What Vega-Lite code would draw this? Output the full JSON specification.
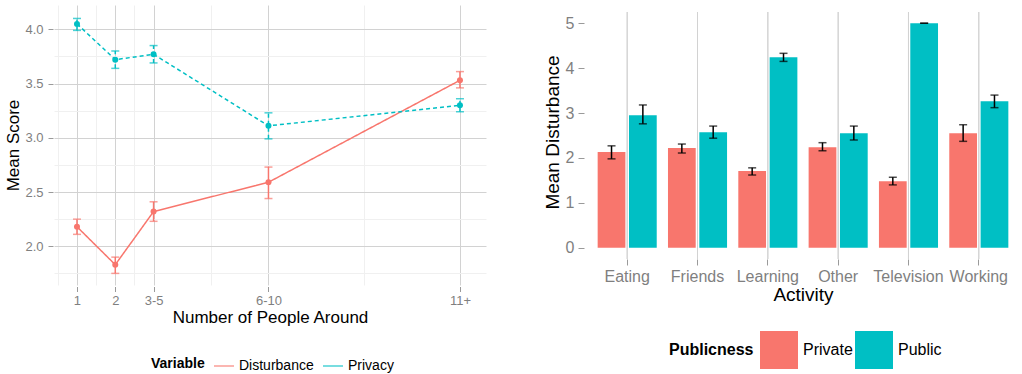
{
  "$schema": "https://vega.github.io/schema/vega-lite/v6.json",
  "autosize": "none",
  "padding": {"left": 54, "top": 5, "right": 968, "bottom": 369},
  "background": "white",
  "spacing": 99,
  "bounds": "flush",
  "config": {
    "font": "Liberation Sans",
    "view": {"stroke": null},
    "axis": {
      "domain": false,
      "labelColor": "#7f7f7f",
      "titleColor": "#000000",
      "titleFontWeight": "normal",
      "labelFont": "Liberation Sans",
      "titleFont": "Liberation Sans",
      "labelOverlap": false,
      "gridWidth": 1
    },
    "legend": {"labelFont": "Liberation Sans", "titleFont": "Liberation Sans", "labelColor": "#000000", "titleColor": "#000000"}
  },
  "resolve": {"scale": {"color": "independent", "x": "independent", "y": "independent"}, "legend": {"color": "independent"}},
  "hconcat": [
    {
      "width": 432,
      "height": 280,
      "data": {"values": [
        {"n": 1, "Variable": "Disturbance", "mean": 2.18, "lo": 2.11, "hi": 2.25},
        {"n": 2, "Variable": "Disturbance", "mean": 1.83, "lo": 1.75, "hi": 1.90},
        {"n": 3, "Variable": "Disturbance", "mean": 2.32, "lo": 2.23, "hi": 2.41},
        {"n": 6, "Variable": "Disturbance", "mean": 2.59, "lo": 2.44, "hi": 2.73},
        {"n": 11, "Variable": "Disturbance", "mean": 3.53, "lo": 3.46, "hi": 3.61},
        {"n": 1, "Variable": "Privacy", "mean": 4.05, "lo": 3.99, "hi": 4.10},
        {"n": 2, "Variable": "Privacy", "mean": 3.72, "lo": 3.64, "hi": 3.80},
        {"n": 3, "Variable": "Privacy", "mean": 3.77, "lo": 3.69, "hi": 3.85},
        {"n": 6, "Variable": "Privacy", "mean": 3.11, "lo": 2.99, "hi": 3.23},
        {"n": 11, "Variable": "Privacy", "mean": 3.30, "lo": 3.24, "hi": 3.36}
      ]},
      "encoding": {
        "x": {
          "field": "n", "type": "quantitative",
          "scale": {"domain": [0.4, 11.68], "nice": false, "zero": false},
          "axis": {
            "title": "Number of People Around",
            "values": [0.5, 1, 1.5, 2, 2.5, 3, 4.5, 6, 8.5, 11],
            "labelExpr": "datum.value == 3 ? '3-5' : datum.value == 6 ? '6-10' : datum.value == 11 ? '11+' : (datum.value % 1 != 0 ? '' : datum.label)",
            "labelFontSize": 13,
            "titleFontSize": 17,
            "tickSize": 5,
            "offset": 1.5,
            "labelPadding": 3,
            "titlePadding": 2,
            "gridColor": {"condition": {"test": "datum.value % 1 != 0", "value": "#f0f0f0"}, "value": "#d2d2d2"},
            "tickColor": {"condition": {"test": "datum.value % 1 != 0", "value": "transparent"}, "value": "#9a9a9a"}
          }
        },
        "y": {
          "field": "mean", "type": "quantitative",
          "scale": {"domain": [1.643, 4.224], "nice": false, "zero": false},
          "axis": {
            "title": "Mean Score",
            "values": [1.75, 2, 2.25, 2.5, 2.75, 3, 3.25, 3.5, 3.75, 4],
            "labelExpr": "indexof([2, 2.5, 3, 3.5, 4], datum.value) >= 0 ? format(datum.value, '.1f') : ''",
            "labelFontSize": 13,
            "titleFontSize": 17,
            "tickSize": 5,
            "offset": 1,
            "labelPadding": 5,
            "titlePadding": 2,
            "gridColor": {"condition": {"test": "indexof([2, 2.5, 3, 3.5, 4], datum.value) < 0", "value": "#f0f0f0"}, "value": "#d2d2d2"},
            "tickColor": {"condition": {"test": "indexof([2, 2.5, 3, 3.5, 4], datum.value) < 0", "value": "transparent"}, "value": "#9a9a9a"}
          }
        },
        "color": {
          "field": "Variable", "type": "nominal",
          "scale": {"domain": ["Disturbance", "Privacy"], "range": ["#F8766D", "#00BFC4"]},
          "legend": {
            "orient": "none", "legendX": 97, "legendY": 350,
            "direction": "horizontal", "titleOrient": "left",
            "title": "Variable", "titleFontSize": 14, "titleFontWeight": "bold",
            "labelFontSize": 14, "symbolType": "stroke", "symbolSize": 400,
            "symbolStrokeWidth": 1.5, "labelOffset": 4, "columnPadding": 6, "titlePadding": 8
          }
        },
        "strokeDash": {
          "field": "Variable", "type": "nominal",
          "scale": {"domain": ["Disturbance", "Privacy"], "range": [[1, 0], [4, 3]]},
          "legend": null
        }
      },
      "layer": [
        {
          "mark": {"type": "line", "strokeWidth": 1.5}
        },
        {
          "mark": {"type": "rule", "strokeWidth": 1.5},
          "encoding": {
            "y": {"field": "lo", "type": "quantitative"},
            "y2": {"field": "hi"}
          }
        },
        {
          "mark": {"type": "tick", "orient": "horizontal", "size": 8, "thickness": 1.5},
          "encoding": {"y": {"field": "lo", "type": "quantitative"}}
        },
        {
          "mark": {"type": "tick", "orient": "horizontal", "size": 8, "thickness": 1.5},
          "encoding": {"y": {"field": "hi", "type": "quantitative"}}
        },
        {
          "mark": {"type": "point", "filled": true, "size": 36, "opacity": 1}
        }
      ]
    },
    {
      "width": 436,
      "height": 254,
      "data": {"values": [
        {"Activity": "Eating", "Publicness": "Private", "mean": 2.13, "lo": 1.98, "hi": 2.27},
        {"Activity": "Eating", "Publicness": "Public", "mean": 2.95, "lo": 2.76, "hi": 3.18},
        {"Activity": "Friends", "Publicness": "Private", "mean": 2.22, "lo": 2.11, "hi": 2.31},
        {"Activity": "Friends", "Publicness": "Public", "mean": 2.57, "lo": 2.44, "hi": 2.71},
        {"Activity": "Learning", "Publicness": "Private", "mean": 1.71, "lo": 1.62, "hi": 1.78},
        {"Activity": "Learning", "Publicness": "Public", "mean": 4.24, "lo": 4.15, "hi": 4.33},
        {"Activity": "Other", "Publicness": "Private", "mean": 2.24, "lo": 2.16, "hi": 2.34},
        {"Activity": "Other", "Publicness": "Public", "mean": 2.55, "lo": 2.40, "hi": 2.71},
        {"Activity": "Television", "Publicness": "Private", "mean": 1.48, "lo": 1.40, "hi": 1.57},
        {"Activity": "Television", "Publicness": "Public", "mean": 5.0, "lo": 5.0, "hi": 5.0},
        {"Activity": "Working", "Publicness": "Private", "mean": 2.55, "lo": 2.37, "hi": 2.74},
        {"Activity": "Working", "Publicness": "Public", "mean": 3.26, "lo": 3.12, "hi": 3.40}
      ]},
      "encoding": {
        "x": {
          "field": "Activity", "type": "nominal",
          "scale": {"paddingInner": 0.16, "paddingOuter": 0.18},
          "axis": {
            "title": "Activity",
            "labelAngle": 0,
            "labelFontSize": 16,
            "titleFontSize": 19,
            "tickSize": 6,
            "tickColor": "#9a9a9a",
            "grid": false,
            "labelPadding": 3,
            "titlePadding": 1
          }
        }
      },
      "layer": [
        {
          "mark": {"type": "rule", "color": "#d2d2d2", "strokeWidth": 1},
          "encoding": {
            "y": {"datum": -0.25, "type": "quantitative"},
            "y2": {"datum": 5.25}
          }
        },
        {
          "mark": {"type": "bar"},
          "encoding": {
            "xOffset": {"field": "Publicness", "type": "nominal", "scale": {"paddingInner": 0.115, "paddingOuter": 0}},
            "y": {
              "field": "mean", "type": "quantitative",
              "scale": {"domain": [-0.25, 5.406], "nice": false, "zero": false},
              "axis": {
                "title": "Mean Disturbance",
                "values": [0, 0.5, 1, 1.5, 2, 2.5, 3, 3.5, 4, 4.5, 5],
                "labelExpr": "datum.value % 1 != 0 ? '' : datum.label",
                "labelFontSize": 16,
                "titleFontSize": 19,
                "tickSize": 6,
                "offset": 1,
                "labelPadding": 4,
                "titlePadding": 3,
                "gridColor": {"condition": {"test": "datum.value % 1 != 0", "value": "#f0f0f0"}, "value": "#d2d2d2"},
                "tickColor": {"condition": {"test": "datum.value % 1 != 0", "value": "transparent"}, "value": "#9a9a9a"}
              }
            },
            "color": {
              "field": "Publicness", "type": "nominal",
              "scale": {"domain": ["Private", "Public"], "range": ["#F8766D", "#00BFC4"]},
              "legend": {
                "orient": "none", "legendX": 84, "legendY": 326,
                "direction": "horizontal", "titleOrient": "left",
                "title": "Publicness", "titleFontSize": 16, "titleFontWeight": "bold",
                "labelFontSize": 16, "symbolType": "square", "symbolSize": 1444,
                "symbolStrokeWidth": 0, "labelOffset": 5, "columnPadding": 2, "titlePadding": 6
              }
            }
          }
        },
        {
          "mark": {"type": "rule", "color": "#000000", "strokeWidth": 1.5},
          "encoding": {
            "xOffset": {"field": "Publicness", "type": "nominal"},
            "y": {"field": "lo", "type": "quantitative"},
            "y2": {"field": "hi"}
          }
        },
        {
          "mark": {"type": "tick", "orient": "horizontal", "color": "#000000", "size": 8, "thickness": 1.5},
          "encoding": {
            "xOffset": {"field": "Publicness", "type": "nominal"},
            "y": {"field": "lo", "type": "quantitative"}
          }
        },
        {
          "mark": {"type": "tick", "orient": "horizontal", "color": "#000000", "size": 8, "thickness": 1.5},
          "encoding": {
            "xOffset": {"field": "Publicness", "type": "nominal"},
            "y": {"field": "hi", "type": "quantitative"}
          }
        }
      ]
    }
  ]
}
